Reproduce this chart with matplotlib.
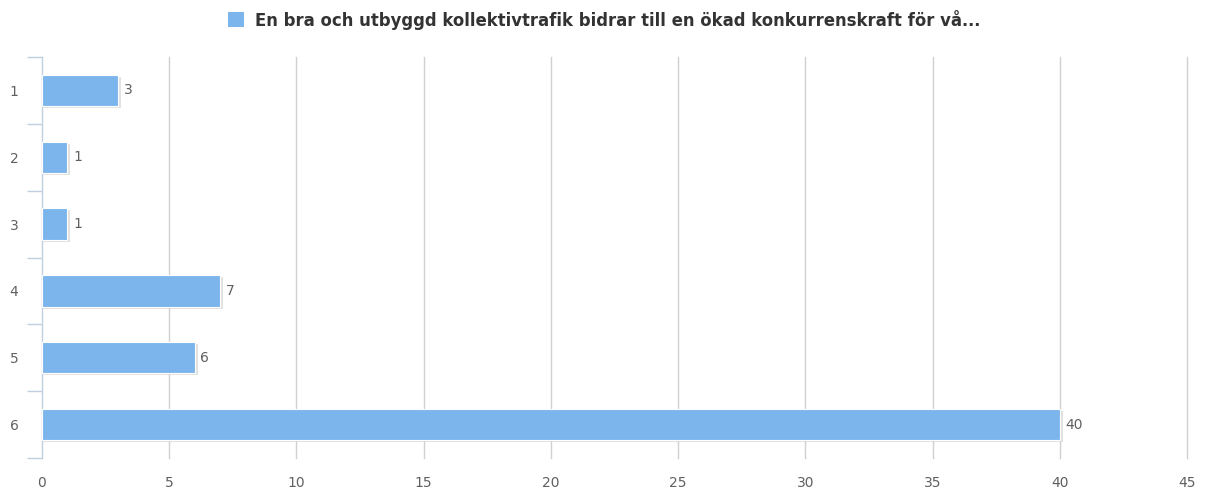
import matplotlib
matplotlib.use("Agg")
import matplotlib.pyplot as plt
from matplotlib.patches import Rectangle

categories = ["1", "2", "3", "4", "5", "6"]
values = [3, 1, 1, 7, 6, 40]
series_name = "En bra och utbyggd kollektivtrafik bidrar till en ökad konkurrenskraft för vå..."
x_ticks = [0, 5, 10, 15, 20, 25, 30, 35, 40, 45]

bar_color = "#7cb5ec"
axis_color = "#c0d0e0"
grid_color = "#d0d0d0"
label_color = "#606060"

fig = plt.figure(figsize=(12.07, 4.96), dpi=100)
ax = fig.add_axes([42 / 1207, 38 / 496, (1187 - 42) / 1207, (458 - 57) / 496])

n = len(categories)
ypos = list(range(n))
bar_h = 0.47

# soft drop shadow behind each bar
for y, v in zip(ypos, values):
    ax.add_patch(Rectangle((0, y - bar_h / 2 + 0.03), v + 0.12, bar_h,
                           facecolor="#cfcfcf", edgecolor="none", alpha=0.6, zorder=2))
ax.barh(ypos, values, height=bar_h, color=bar_color, edgecolor="white",
        linewidth=0.8, zorder=3)

for y, v in zip(ypos, values):
    ax.text(v + 0.22, y, str(v), va="center", ha="left", fontsize=10,
            color=label_color, zorder=4)

ax.set_xlim(0, 45)
ax.set_ylim(n - 0.5, -0.5)
ax.set_xticks(x_ticks)
ax.set_xticklabels([str(t) for t in x_ticks], fontsize=10, color=label_color)
ax.tick_params(axis="x", length=0, pad=13)

ax.set_yticks(ypos)
ax.set_yticklabels(categories, fontsize=10, color=label_color)
ax.tick_params(axis="y", which="major", length=0, pad=17)
ax.set_yticks([i - 0.5 for i in range(n + 1)], minor=True)
ax.tick_params(axis="y", which="minor", length=10.5, width=1, color=axis_color)

# vertical grid lines at each x tick
for t in x_ticks[1:]:
    ax.axvline(t, color=grid_color, linewidth=1, zorder=0, clip_on=False)
for s in ["top", "right", "bottom"]:
    ax.spines[s].set_visible(False)
ax.spines["left"].set_color(axis_color)
ax.spines["left"].set_linewidth(1)

# legend entry above the plot
fig.patches.append(Rectangle((228 / 1207, 1 - 27 / 496), 16 / 1207, 15 / 496,
                             transform=fig.transFigure, facecolor=bar_color,
                             edgecolor="none"))
fig.text(255 / 1207, 1 - 20 / 496, series_name, ha="left", va="center",
         fontsize=11.9, fontweight="bold", color="#333333")

fig.savefig("out.png", dpi=100, facecolor="white")
